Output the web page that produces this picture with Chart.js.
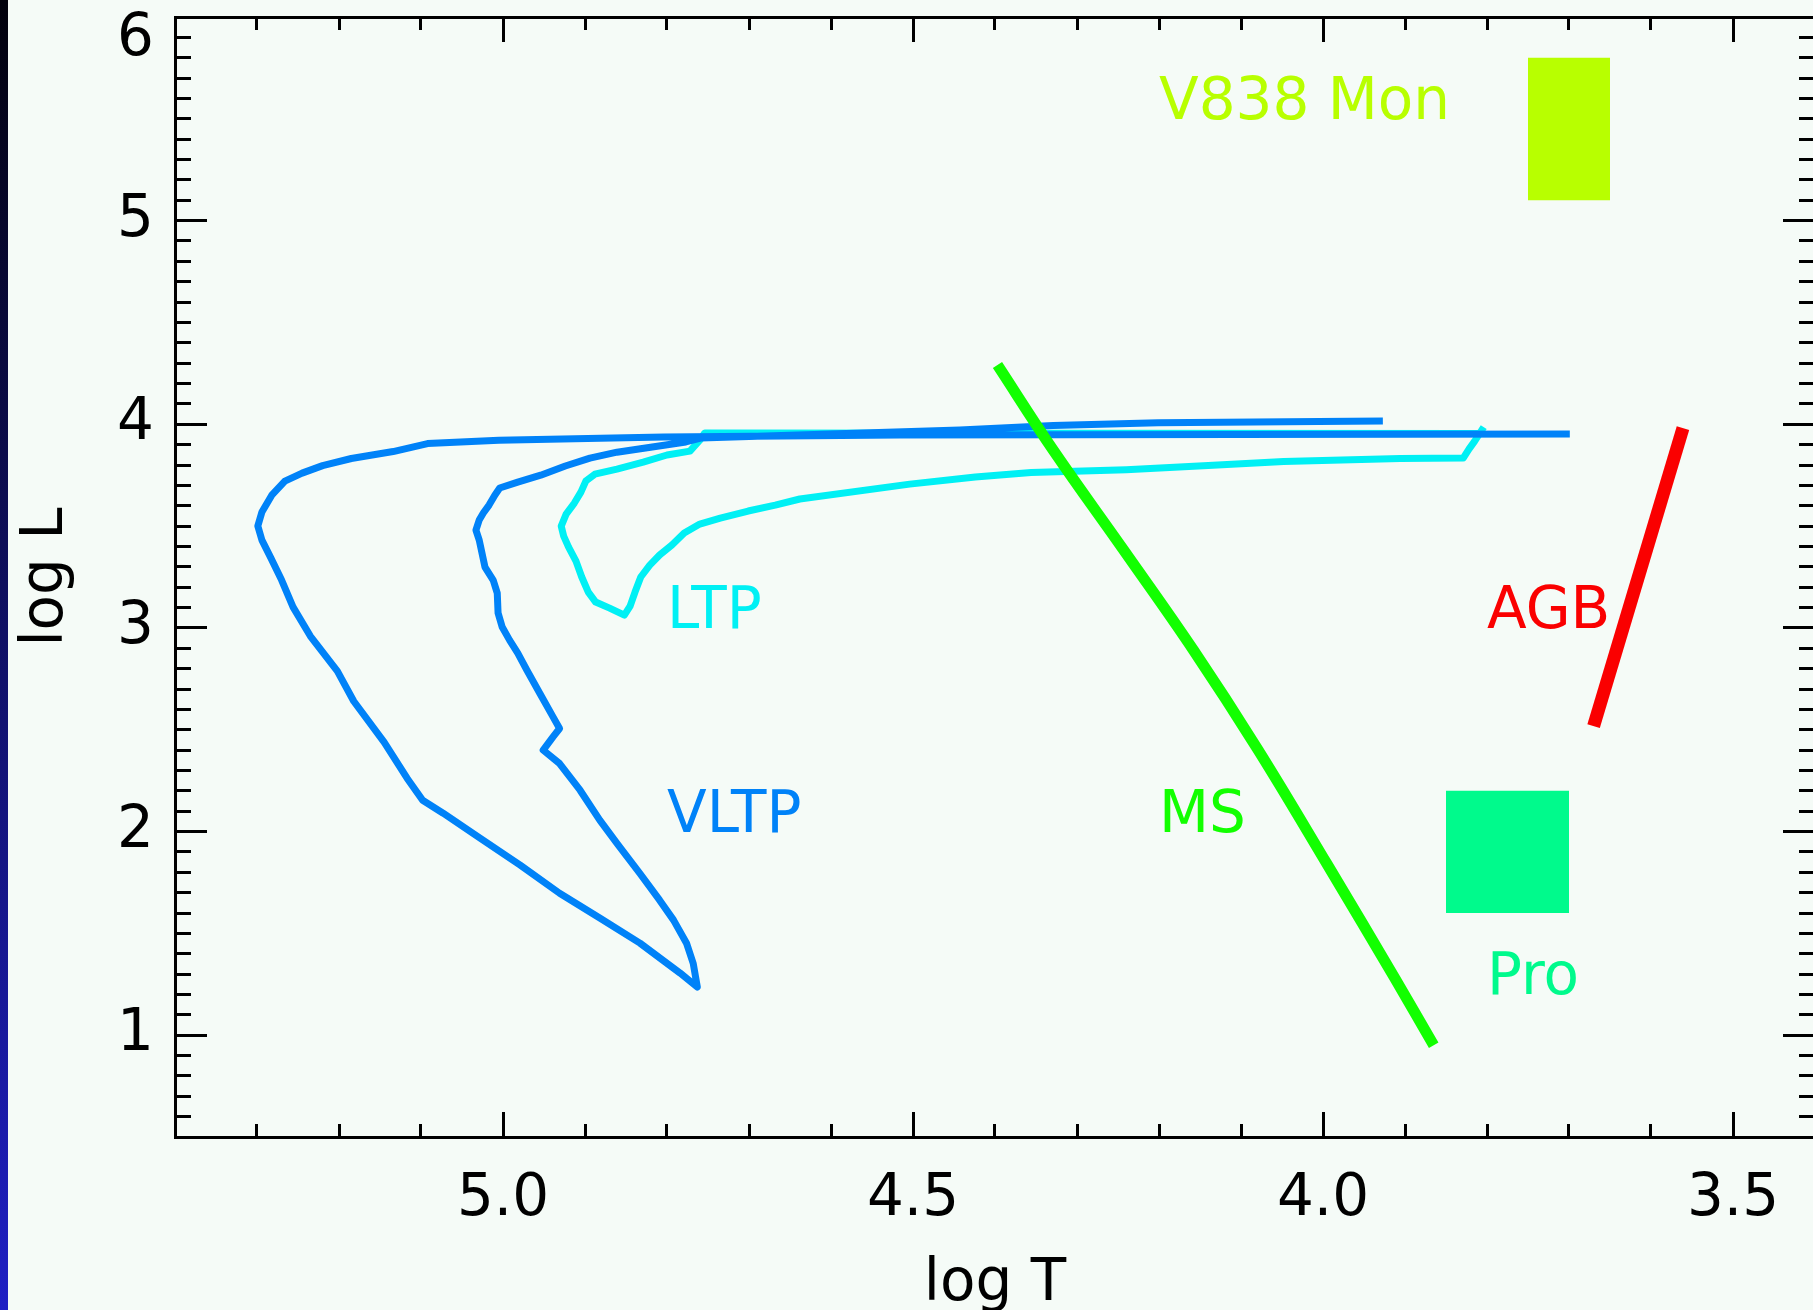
<!DOCTYPE html>
<html>
<head>
<meta charset="utf-8">
<script src="https://cdn.jsdelivr.net/npm/chart.js@4.4.1/dist/chart.umd.min.js"></script>
<style>
  html, body { margin: 0; padding: 0; overflow: hidden; background: #f5fbf7; }
  #wrap { position: relative; width: 1813px; height: 1310px; overflow: hidden; }
  #hrd { position: absolute; left: 0; top: 0; }
  #edge { position: absolute; left: 0; top: 0; width: 8px; height: 1310px;
          background: linear-gradient(to bottom, #02020c, #1f1fc4); }
</style>
</head>
<body>
<div id="wrap">
  <canvas id="hrd" width="1830" height="1310"></canvas>
  <div id="edge"></div>
</div>
<script>
// axis ranges and labelled ticks (log T runs backwards)
const tMin = 3.4, tMax = 5.4;
const lMin = 0.5, lMax = 6;
const tMajor = [5.0, 4.5, 4.0, 3.5];
const lMajor = [1, 2, 3, 4, 5, 6];

// very late thermal pulse track (blue)
const vltpT = [3.699, 4.516, 4.804, 5.005, 5.092, 5.134, 5.185, 5.220, 5.245, 5.266,
  5.282, 5.294, 5.299, 5.294, 5.283, 5.270, 5.256, 5.235, 5.202, 5.182,
  5.145, 5.117, 5.098, 5.073, 5.028, 4.979, 4.931, 4.882, 4.833, 4.784, 4.763,
  4.768, 4.776, 4.792, 4.809, 4.833, 4.861, 4.882, 4.906, 4.931, 4.951,
  4.939, 4.931, 4.939, 4.955, 4.971, 4.982, 4.992, 5.001, 5.006, 5.007,
  5.012, 5.022, 5.029, 5.033, 5.029, 5.024, 5.017, 5.010, 5.004, 4.982,
  4.954, 4.924, 4.894, 4.861, 4.818, 4.777, 4.759, 4.443, 4.329, 4.201, 3.927];
const vltpL = [3.952, 3.947, 3.937, 3.922, 3.905, 3.866, 3.832, 3.797, 3.760, 3.721,
  3.652, 3.569, 3.500, 3.431, 3.343, 3.235, 3.102, 2.960, 2.788, 2.640,
  2.439, 2.262, 2.154, 2.090, 1.968, 1.835, 1.697, 1.575, 1.452, 1.305, 1.236,
  1.352, 1.450, 1.565, 1.663, 1.794, 1.942, 2.056, 2.203, 2.334, 2.400,
  2.465, 2.506, 2.563, 2.678, 2.793, 2.876, 2.940, 3.004, 3.073, 3.171,
  3.235, 3.299, 3.431, 3.480, 3.530, 3.564, 3.603, 3.652, 3.687, 3.716,
  3.750, 3.795, 3.834, 3.863, 3.888, 3.913, 3.932, 3.972, 3.994, 4.008, 4.016];

// late thermal pulse track (cyan)
const ltpT = [3.810, 4.754, 4.760, 4.772, 4.800, 4.829, 4.861, 4.888, 4.899, 4.905,
  4.913, 4.923, 4.929, 4.926, 4.920, 4.911, 4.904, 4.896, 4.887, 4.870,
  4.852, 4.845, 4.839, 4.832, 4.821, 4.809, 4.794, 4.779, 4.760, 4.735,
  4.701, 4.668, 4.638, 4.504, 4.424, 4.356, 4.240, 4.140, 4.048, 3.906,
  3.829, 3.822, 3.815, 3.804];
const ltpL = [3.955, 3.957, 3.922, 3.868, 3.849, 3.814, 3.780, 3.755, 3.721, 3.667,
  3.613, 3.559, 3.500, 3.451, 3.397, 3.328, 3.250, 3.176, 3.127, 3.097,
  3.063, 3.107, 3.176, 3.250, 3.308, 3.358, 3.407, 3.466, 3.510, 3.539,
  3.574, 3.603, 3.633, 3.706, 3.741, 3.763, 3.777, 3.797, 3.817, 3.832,
  3.834, 3.878, 3.917, 3.986];

// main sequence and AGB
const msT = [4.397, 4.329, 4.243, 4.158, 4.079, 3.995, 3.912, 3.865];
const msL = [4.291, 3.873, 3.382, 2.891, 2.400, 1.840, 1.277, 0.951];
const agbT = [3.670, 3.561];
const agbL = [2.518, 3.981];

// boxes: [hot edge, cool edge] and [low L, high L]
const v838T = [3.75, 3.65];
const v838L = [5.1, 5.8];
const proT = [3.85, 3.70];
const proL = [1.6, 2.2];

// text labels, placed at (log T, log L) of their baseline start
const tagText = ['V838 Mon', 'LTP', 'VLTP', 'MS', 'AGB', 'Pro'];
const tagT = [4.2, 4.8, 4.8, 4.2, 3.8, 3.8];
const tagL = [5.5, 3.0, 2.0, 2.0, 3.0, 1.2];
const tagColor = ['#b8ff00', '#00f0f4', '#0082f8', '#12ff00', '#fa0000', '#00fa8c'];

const black = '#000';
Chart.defaults.font.family = '"DejaVu Sans", sans-serif';
Chart.defaults.color = black;

const track = (T, L, color, width, tension = 0) => ({
  data: T.map((t, i) => ({ x: t, y: L[i] })),
  borderColor: color,
  borderWidth: width,
  borderJoinStyle: 'round',
  borderCapStyle: 'butt',
  pointRadius: 0,
  tension,
  fill: false
});

const box = (T, L, color) => ({
  data: T.map(t => ({ x: t, y: L[1] })),
  fill: { target: { value: L[0] } },
  backgroundColor: color,
  borderColor: 'rgba(0,0,0,0)',
  borderWidth: 0,
  pointRadius: 0
});

// ticks point inward, so tick lengths are negative
function frame(position, len, weight, size) {
  return {
    type: 'linear',
    position,
    weight,
    border: { display: weight > 0, width: 3, color: black },
    grid: {
      drawOnChartArea: false,
      drawTicks: true,
      tickLength: -len,
      tickWidth: 3,
      tickColor: black,
      color: black,
      lineWidth: 3
    },
    afterFit(s) {
      if (s.isHorizontal()) s.height = size;
      else s.width = size;
      s.paddingTop = s.paddingBottom = s.paddingLeft = s.paddingRight = 0;
    }
  };
}

const tAxis = (position, len, weight, size) =>
  Object.assign(frame(position, len, weight, size), { min: tMin, max: tMax, reverse: true });
const lAxis = (position, len, weight, size) =>
  Object.assign(frame(position, len, weight, size), { min: lMin, max: lMax });

const setMajorT = s => { s.ticks = tMajor.map(v => ({ value: v })); };
const setMajorL = s => { s.ticks = lMajor.map(v => ({ value: v })); };
const minorTicks = { display: false, stepSize: 0.1 };

const scales = {
  x: Object.assign(tAxis('bottom', 25, 1, 173), {
    afterBuildTicks: setMajorT,
    ticks: { font: { size: 58 }, padding: 53, autoSkip: false, maxRotation: 0,
             callback: v => v.toFixed(1) },
    title: { display: true, text: 'log T', font: { size: 58 }, padding: { top: 0, bottom: -10 } }
  }),
  xMinor: Object.assign(tAxis('bottom', 13, 0, 0), { ticks: minorTicks }),
  xTop: Object.assign(tAxis('top', 25, 1, 17), { afterBuildTicks: setMajorT, ticks: { display: false } }),
  xTopMinor: Object.assign(tAxis('top', 13, 0, 0), { ticks: minorTicks }),
  y: Object.assign(lAxis('left', 32, 1, 175), {
    afterBuildTicks: setMajorL,
    ticks: { font: { size: 58, lineHeight: 0.78 }, padding: 53, autoSkip: false,
             // the top label hangs below its tick
             callback: v => (v === lMax ? ['', String(v)] : String(v)) },
    title: { display: true, text: 'log L', font: { size: 58 }, padding: { top: 12, bottom: 0 } }
  }),
  yMinor: Object.assign(lAxis('left', 16, 0, 0), { ticks: minorTicks }),
  yRight: Object.assign(lAxis('right', 32, 1, 15), { afterBuildTicks: setMajorL, ticks: { display: false } }),
  yRightMinor: Object.assign(lAxis('right', 16, 0, 0), { ticks: minorTicks })
};

const tagPlugin = {
  id: 'tags',
  afterDatasetsDraw(chart) {
    const { ctx, scales: { x, y } } = chart;
    ctx.save();
    ctx.font = '58px "DejaVu Sans", sans-serif';
    ctx.textAlign = 'left';
    ctx.textBaseline = 'alphabetic';
    tagText.forEach((txt, i) => {
      ctx.fillStyle = tagColor[i];
      ctx.fillText(txt, x.getPixelForValue(tagT[i]), y.getPixelForValue(tagL[i]));
    });
    ctx.restore();
  }
};

new Chart(document.getElementById('hrd'), {
  type: 'line',
  data: {
    datasets: [
      track(msT, msL, '#12ff00', 11, 0.4),
      track(vltpT, vltpL, '#0082f8', 7),
      track(ltpT, ltpL, '#00f0f4', 7),
      track(agbT, agbL, '#fa0000', 13),
      box(v838T, v838L, '#b8ff00'),
      box(proT, proL, '#00fa8c')
    ]
  },
  options: {
    responsive: false,
    animation: false,
    devicePixelRatio: 1,
    layout: { padding: 0 },
    plugins: { legend: { display: false }, tooltip: { enabled: false } },
    scales
  },
  plugins: [tagPlugin]
});
</script>
</body>
</html>
